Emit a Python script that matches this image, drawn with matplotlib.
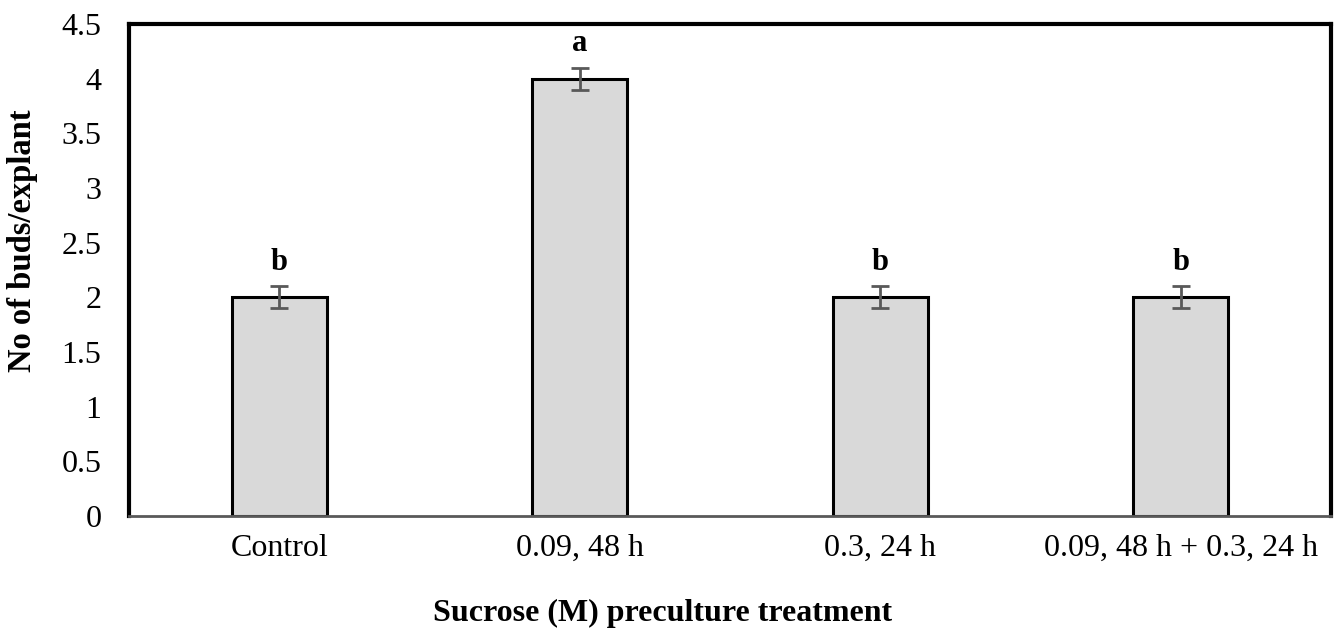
import matplotlib.pyplot as plt

categories = ['Control', '0.09, 48 h', '0.3, 24 h', '0.09, 48 h + 0.3, 24 h']
buds = [2.0, 4.0, 2.0, 2.0]
errors = [0.1, 0.1, 0.1, 0.1]
letters = ['b', 'a', 'b', 'b']
yticks = [0, 0.5, 1, 1.5, 2, 2.5, 3, 3.5, 4, 4.5]
ytick_labels = ['0', '0.5', '1', '1.5', '2', '2.5', '3', '3.5', '4', '4.5']

plt.rcParams['font.family'] = ['Liberation Serif', 'DejaVu Serif']

fig = plt.figure(figsize=(13.36, 6.32), dpi=100)
ax = fig.add_axes([0.0966, 0.1835, 0.8997, 0.7785])

x = range(len(categories))
ax.bar(x, buds, width=0.316, color='#d9d9d9', edgecolor='black', linewidth=2.2, zorder=2)
ax.errorbar(x, buds, yerr=errors, fmt='none', ecolor='#595959', elinewidth=2,
            capsize=6.5, capthick=2, zorder=3)
for i, (v, e, l) in enumerate(zip(buds, errors, letters)):
    ax.text(i, v + e + 0.15, l, ha='center', va='baseline', fontsize=22, fontweight='bold')

ax.set_xlim(-0.5, len(categories) - 0.5)
ax.set_ylim(0, 4.5)
ax.set_yticks(yticks)
ax.set_yticklabels(ytick_labels)
ax.set_xticks(list(x))
ax.set_xticklabels(categories)
ax.tick_params(axis='both', length=0, labelsize=23, colors='black')
ax.tick_params(axis='y', pad=20)
ax.tick_params(axis='x', pad=13)

for s in ['top', 'right', 'left']:
    ax.spines[s].set_linewidth(3)
    ax.spines[s].set_color('black')
ax.spines['bottom'].set_linewidth(2)
ax.spines['bottom'].set_color('#595959')

ax.set_ylabel('No of buds/explant', fontsize=23.5, fontweight='bold')
ax.yaxis.set_label_coords(-0.076, 0.559)
ax.set_xlabel('Sucrose (M) preculture treatment', fontsize=23, fontweight='bold')
ax.xaxis.set_label_coords(0.444, -0.169)

fig.savefig('out.png', dpi=100)
